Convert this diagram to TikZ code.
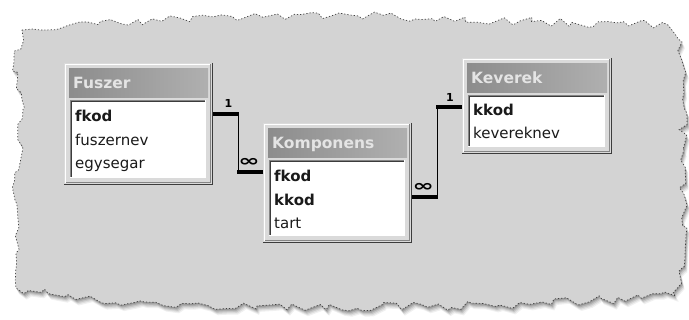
\documentclass[tikz,border=0pt]{standalone}
\usepackage{fontspec}
\setmainfont{DejaVu Sans}
\usetikzlibrary{calc,decorations.pathmorphing}
\definecolor{bggray}{HTML}{D3D3D3}
\definecolor{panel}{HTML}{DADADA}
\definecolor{titlebar}{HTML}{9C9C9C}
\definecolor{titletext}{HTML}{E4E4E4}
\definecolor{edgedark}{HTML}{3C3C3C}
\definecolor{edgemid}{HTML}{858585}
\definecolor{fieldtext}{HTML}{1A1A1A}
\tikzset{
  panelbox/.style={fill=panel, draw=none, inner sep=0pt, anchor=north west},
  titlebox/.style={left color=titlebar!90!black, right color=titlebar!80!white, draw=none, inner sep=0pt, anchor=north west},
  bodybox/.style={fill=white, draw=none, inner sep=0pt, anchor=north west},
  titlelbl/.style={text=titletext, font=\fontsize{15.5}{18}\selectfont\bfseries, inner sep=0pt, anchor=base west},
  fieldlbl/.style={text=fieldtext, font=\fontsize{15}{18}\selectfont, inner sep=0pt, anchor=base west},
  keylbl/.style={fieldlbl, font=\fontsize{15}{18}\selectfont\bfseries},
  rel/.style={black, line width=1.4pt},
  relend/.style={black, line width=3.6pt},
  onelbl/.style={font=\fontsize{11}{12}\selectfont\bfseries, inner sep=0pt},
  manylbl/.style={font=\fontsize{16}{18}\selectfont\bfseries, inner sep=0pt, xscale=1.6},
  tornedge/.style={decorate, decoration={random steps, segment length=8pt, amplitude=4.5pt}},
}
\newcommand\erTable[6]{%
  \node[panelbox, minimum width=#4pt, minimum height=#5pt] (#1) at (#2,#3) {};
  \draw[white, line width=1pt] ([xshift=1.5pt,yshift=2pt]#1.south west) -- ([xshift=1.5pt,yshift=-1.5pt]#1.north west) -- ([xshift=-2pt,yshift=-1.5pt]#1.north east);
  \draw[edgemid, line width=1pt] ([xshift=-2.6pt,yshift=-1.5pt]#1.north east) -- ([xshift=-2.6pt,yshift=2.6pt]#1.south east) -- ([xshift=1.5pt,yshift=2.6pt]#1.south west);
  \draw[edgedark, line width=1.3pt] ([xshift=-0.65pt]#1.north east) -- ([xshift=-0.65pt,yshift=0.65pt]#1.south east) -- ([yshift=0.65pt]#1.south west);
  \node[titlebox, minimum width=#4pt-10pt, minimum height=29pt] (#1-t) at ($(#1.north west)+(5,5)$) {};
  \node[titlelbl] (#1-tl) at ($(#1-t.north west)+(4,21)$) {#6};
  \node[bodybox, minimum width=#4pt-13pt, minimum height=#5pt-44pt] (#1-b) at ($(#1.north west)+(6,37)$) {};
  \draw[edgemid, line width=1pt] ([xshift=0.5pt]#1-b.south west) -- ([xshift=0.5pt,yshift=-0.5pt]#1-b.north west) -- ([yshift=-0.5pt]#1-b.north east);
  \draw[edgedark, line width=1pt] ([xshift=1.5pt,yshift=1pt]#1-b.south west) -- ([xshift=1.5pt,yshift=-1.5pt]#1-b.north west) -- ([xshift=-1pt,yshift=-1.5pt]#1-b.north east);
  \draw[white, line width=1pt] ([xshift=-0.5pt]#1-b.north east) -- ([xshift=-0.5pt,yshift=0.5pt]#1-b.south east) -- ([yshift=0.5pt]#1-b.south west);
}
\begin{document}
\begin{tikzpicture}[x=1pt,y=-1pt]
\useasboundingbox (0,0) rectangle (689,320);
\fill[white] (0,0) rectangle (689,320);
% torn background with soft shadow
\foreach \s/\o in {5/0.06, 4/0.08, 3/0.10, 2/0.12, 1/0.14} {
  \pgfmathsetseed{11}
  \fill[black, opacity=\o, shift={(\s*0.6,\s*1.2)}, tornedge]
    (22,30) -- (180,18) -- (350,15) -- (520,21) -- (668,25) -- (682,42) -- (684,150) -- (682,268) -- (676,296)
    -- (500,305) -- (300,308) -- (100,302) -- (16,288) -- (15,200) -- (22,100) -- (14,62) -- cycle;
}
\pgfmathsetseed{11}
\fill[bggray, tornedge]
    (22,30) -- (180,18) -- (350,15) -- (520,21) -- (668,25) -- (682,42) -- (684,150) -- (682,268) -- (676,296)
    -- (500,305) -- (300,308) -- (100,302) -- (16,288) -- (15,200) -- (22,100) -- (14,62) -- cycle;
\pgfmathsetseed{11}
\draw[black!75, line width=0.7pt, dash pattern=on 1.2pt off 2pt, tornedge]
    (22,30) -- (180,18) -- (350,15) -- (520,21) -- (668,25) -- (682,42) -- (684,150) -- (682,268) -- (676,296)
    -- (500,305) -- (300,308) -- (100,302) -- (16,288) -- (15,200) -- (22,100) -- (14,62) -- cycle;
% tables
\erTable{fz}{64}{63}{149}{122}{Fuszer}
\node[keylbl]   (fz-1) at ($(fz-b.north west)+(5,22)$) {fkod};
\node[fieldlbl] (fz-2) at ($(fz-b.north west)+(5,45.5)$) {fuszernev};
\node[fieldlbl] (fz-3) at ($(fz-b.north west)+(5,69)$) {egysegar};
\erTable{kp}{263}{123}{149}{120}{Komponens}
\node[keylbl]   (kp-1) at ($(kp-b.north west)+(5,22)$) {fkod};
\node[keylbl]   (kp-2) at ($(kp-b.north west)+(5,45.5)$) {kkod};
\node[fieldlbl] (kp-3) at ($(kp-b.north west)+(5,69)$) {tart};
\erTable{kv}{462}{58}{150}{96}{Keverek}
\node[keylbl]   (kv-1) at ($(kv-b.north west)+(5,21)$) {kkod};
\node[fieldlbl] (kv-2) at ($(kv-b.north west)+(5,44)$) {kevereknev};
% relationships
\coordinate (r1s) at ($(fz.north east)+(0,51)$);
\coordinate (r1e) at ($(kp.north west)+(0,49)$);
\coordinate (r2s) at ($(kp.north east)+(0,74)$);
\coordinate (r2e) at ($(kv.north west)+(0,49)$);
\draw[rel] (r1s) -- ++(25,0) |- (r1e);
\draw[relend] (r1s) -- ++(25.7,0);
\draw[relend] (r1e) -- ++(-25.7,0);
\draw[rel] (r2s) -- ++(25,0) |- (r2e);
\draw[relend] (r2s) -- ++(25.7,0);
\draw[relend] (r2e) -- ++(-25.7,0);
\node[onelbl]  (l1a) at ($(r1s)+(15,-11)$) {1};
\node[manylbl] (l1b) at ($(r1e)+(-14,-10)$) {∞};
\node[manylbl] (l2a) at ($(r2s)+(11,-10)$) {∞};
\node[onelbl]  (l2b) at ($(r2e)+(-12,-10)$) {1};
\end{tikzpicture}
\end{document}
